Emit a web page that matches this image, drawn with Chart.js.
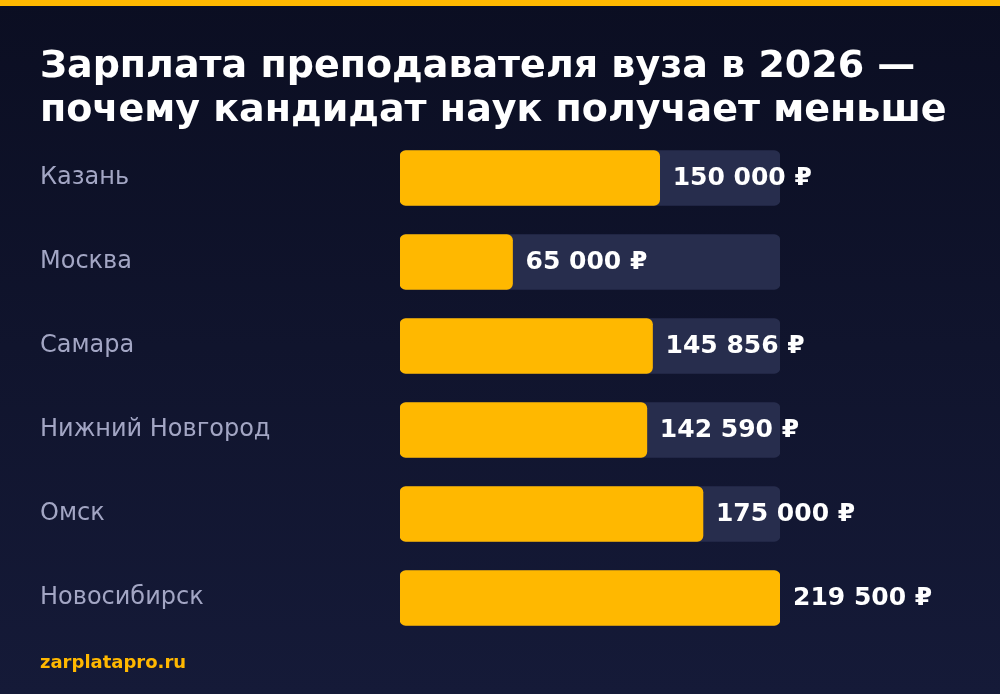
<!DOCTYPE html>
<html><head><meta charset="utf-8">
<script src="https://cdn.jsdelivr.net/npm/chart.js@4"></script>
<style>
html,body{margin:0;padding:0;width:1000px;height:694px;overflow:hidden;background:linear-gradient(180deg,#0b0e22 0%,#151a38 100%);}
#wrap{position:absolute;left:0;top:0;width:1000px;height:694px;}
#topbar{position:absolute;left:0;top:0;width:1000px;height:6px;background:#FFB800;}
</style></head><body>
<div id="topbar"></div>
<div id="wrap"><canvas id="c" width="1000" height="694"></canvas></div>
<script>
const titleLines = ["Зарплата преподавателя вуза в 2026 —", "почему кандидат наук получает меньше"];
const cities = ["Казань","Москва","Самара","Нижний Новгород","Омск","Новосибирск"];
const salaries = [150000,65000,145856,142590,175000,219500];
const valueLabels = ["150 000 ₽","65 000 ₽","145 856 ₽","142 590 ₽","175 000 ₽","219 500 ₽"];
const source = "zarplatapro.ru";
const maxVal = Math.max(...salaries);

const textPlugin = {
  id:'txt',
  afterDraw(chart){
    const ctx = chart.ctx;
    ctx.save();
    ctx.textBaseline='alphabetic';
    ctx.fillStyle='#ffffff';
    ctx.font='bold 38px "DejaVu Sans"';
    ctx.fillText(titleLines[0],40,77);
    ctx.fillText(titleLines[1],40,121);
    const meta = chart.getDatasetMeta(1);
    ctx.textBaseline='middle';
    meta.data.forEach((bar,i)=>{
      ctx.font='24px "DejaVu Sans"';
      ctx.fillStyle='#a3a6c4';
      ctx.fillText(cities[i],40,bar.y);
      ctx.font='bold 25px "DejaVu Sans"';
      ctx.fillStyle='#ffffff';
      ctx.fillText(valueLabels[i],bar.x+13,bar.y);
    });
    ctx.font='bold 18px "DejaVu Sans"';
    ctx.fillStyle='#FFB800';
    ctx.fillText(source,40,663);
    ctx.restore();
  }
};

new Chart(document.getElementById('c'),{
  type:'bar',
  data:{labels:cities,datasets:[
    {data:cities.map(()=>maxVal),backgroundColor:'#272d4d',borderRadius:6,borderSkipped:false,barThickness:55,grouped:false,order:2},
    {data:salaries,backgroundColor:'#FFB800',borderRadius:6,borderSkipped:false,barThickness:55,grouped:false,order:1}
  ]},
  options:{
    indexAxis:'y',responsive:false,animation:false,
    layout:{padding:{left:400,right:220,top:136,bottom:54}},
    plugins:{legend:{display:false},tooltip:{enabled:false}},
    scales:{
      x:{display:false,min:0,max:maxVal},
      y:{display:false}
    }
  },
  plugins:[textPlugin]
});
</script>
</body></html>
